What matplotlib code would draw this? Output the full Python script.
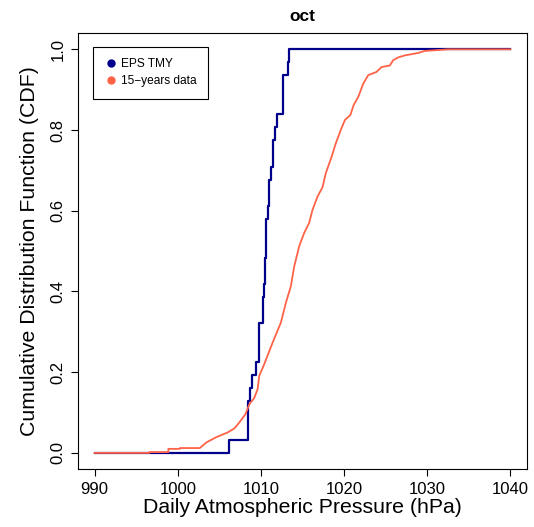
import numpy as np
import matplotlib
matplotlib.use("Agg")
import matplotlib.pyplot as plt
from matplotlib.lines import Line2D

plt.rcParams['font.family'] = ['Liberation Sans', 'DejaVu Sans']

# EPS TMY daily pressures for october (31 days)
eps_tmy = [1006.2, 1008.45, 1008.45, 1008.45, 1008.65, 1008.9, 1009.4,
           1009.8, 1009.8, 1009.8, 1010.2, 1010.3, 1010.4, 1010.45, 1010.5,
           1010.55, 1010.6, 1010.65, 1010.85, 1011.0, 1011.0, 1011.2,
           1011.5, 1011.5, 1011.7, 1011.95, 1012.6, 1012.6, 1012.6,
           1013.2, 1013.4]

obs_p = [990.0, 996.6, 996.6, 998.87, 998.87, 1000.26, 1000.26, 1002.65,
         1003.45, 1004.64, 1006.03, 1006.83, 1007.42, 1008.14, 1008.62,
         1009.2, 1009.6, 1009.8, 1010.4, 1011.4, 1012.4, 1013.0, 1013.6,
         1014.0, 1014.6, 1015.2, 1015.8, 1016.2, 1016.8, 1017.4, 1017.8,
         1018.5, 1019.0, 1019.6, 1020.1, 1020.75, 1021.15, 1021.7, 1022.3,
         1022.9, 1023.9, 1024.5, 1025.5, 1025.9, 1026.5, 1027.3, 1028.9,
         1029.7, 1032.5, 1040.0]
obs_cdf = [0.0, 0.0, 0.002, 0.002, 0.010, 0.010, 0.012, 0.012,
           0.026, 0.039, 0.051, 0.061, 0.076, 0.096, 0.121,
           0.136, 0.158, 0.191, 0.220, 0.273, 0.323, 0.372, 0.413,
           0.462, 0.512, 0.545, 0.570, 0.602, 0.635, 0.658, 0.693,
           0.734, 0.767, 0.800, 0.825, 0.837, 0.862, 0.882, 0.915,
           0.936, 0.944, 0.956, 0.960, 0.973, 0.980, 0.985, 0.991,
           0.996, 1.0, 1.0]

x_ticks = [990, 1000, 1010, 1020, 1030, 1040]
y_ticks = [0.0, 0.2, 0.4, 0.6, 0.8, 1.0]

blue = '#00008B'
orange = 'tomato'

fig = plt.figure(figsize=(5.34, 5.27), dpi=100)
ax = fig.add_axes([0.146, 0.110, 0.841, 0.827])

# ecdf a gradini per EPS TMY
xs = np.sort(eps_tmy)
ys = np.arange(1, len(xs) + 1) / len(xs)
xs = np.concatenate([[990.0], xs, [1040.0]])
ys = np.concatenate([[0.0], ys, [1.0]])
ax.plot(xs, ys, drawstyle='steps-post', color=blue, lw=1.6)

ax.plot(obs_p, obs_cdf, color=orange, lw=1.3)

ax.set_xlim(988, 1042)
ax.set_ylim(-0.04, 1.04)
ax.set_xticks(x_ticks)
ax.set_yticks(y_ticks)
ax.set_xticklabels([str(v) for v in x_ticks], fontsize=12)
ax.set_yticklabels(['%.1f' % v for v in y_ticks], fontsize=12, rotation=90, va='center')
ax.tick_params(direction='out', length=5, width=0.8, pad=4)
for s in ax.spines.values():
    s.set_linewidth(0.8)

ax.set_xlabel('Daily Atmospheric Pressure (hPa)', fontsize=15.3, labelpad=1)
ax.set_ylabel('Cumulative Distribution Function (CDF)', fontsize=15.3, labelpad=8)
ax.set_title('oct', fontsize=12.5, fontweight='bold', pad=9)

handles = [Line2D([], [], ls='none', marker='o', color=blue, markersize=5),
           Line2D([], [], ls='none', marker='o', color=orange, markersize=5)]
leg = ax.legend(handles, ['EPS TMY', '15\u2212years data'], loc='upper left',
                bbox_to_anchor=(0.033, 0.968), borderaxespad=0, fontsize=8.6,
                fancybox=False, edgecolor='black', framealpha=1,
                handletextpad=0.3, handlelength=1.1, borderpad=0.95,
                labelspacing=0.4)
leg.get_frame().set_linewidth(0.8)

fig.savefig('out.png', dpi=100)
